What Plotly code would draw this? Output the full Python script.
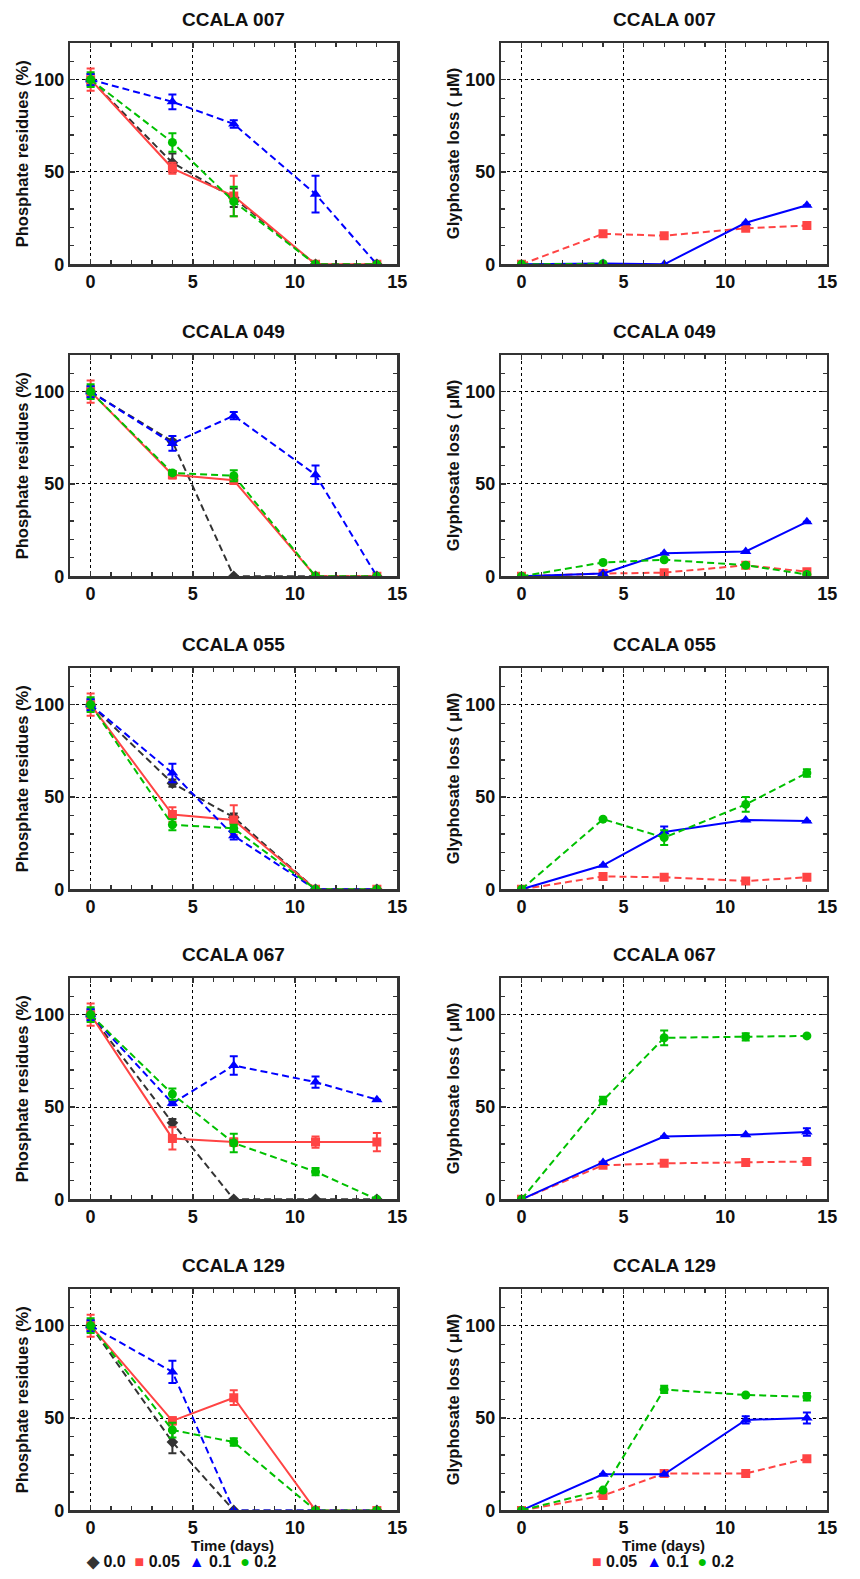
import plotly.graph_objects as go

# ---------------- data ----------------
days = [0, 4, 7, 11, 14]
strains = ["CCALA 007", "CCALA 049", "CCALA 055", "CCALA 067", "CCALA 129"]
conc_left = ["0.0", "0.05", "0.1", "0.2"]
conc_right = ["0.05", "0.1", "0.2"]
x_ticks = [0, 5, 10, 15]
y_ticks = [0, 50, 100]

# Phosphate residues (%) per strain: series order 0.0, 0.05, 0.1, 0.2
phos_007 = [[100, 55, 36, 0, 0], [100, 52, 37, 0, 0], [100, 88, 76, 38, 0], [100, 66, 34, 0, 0]]
phos_049 = [[100, 73, 0, 0, 0], [100, 55, 52, 0, 0], [100, 72, 87, 55, 0], [100, 56, 54.5, 0, 0]]
phos_055 = [[100, 57.5, 39, 0, 0], [100, 40.5, 37.5, 0, 0], [100, 63, 29, 0, 0], [100, 35, 33, 0, 0]]
phos_067 = [[100, 41.5, 0, 0, 0], [100, 33, 31, 31, 31], [100, 52, 72.5, 63.5, 54], [100, 57, 30.5, 15, 0]]
phos_129 = [[100, 37, 0, 0, 0], [100, 48.5, 61, 0, 0], [100, 75, 0, 0, 0], [100, 43.5, 37, 0, 0]]

phos_err_007 = [[3, 5, 5, 0, 0], [6, 3, 11, 0, 0], [3, 4, 2, 10, 0], [4, 5, 8, 0, 0]]
phos_err_049 = [[3, 1, 0, 0, 0], [6, 2, 2, 0, 0], [3, 4, 2, 5, 0], [4, 1, 3, 0, 0]]
phos_err_055 = [[3, 2, 2, 0, 0], [6, 4, 8, 0, 0], [3, 5, 2, 0, 0], [4, 3, 2, 0, 0]]
phos_err_067 = [[3, 2, 0, 0, 0], [6, 6, 2, 3, 5], [3, 1, 5, 3, 0], [4, 3, 5, 2, 0]]
phos_err_129 = [[3, 6, 0, 0, 0], [6, 2, 4, 0, 0], [3, 6, 0, 0, 0], [4, 4, 2, 0, 0]]

# Glyphosate loss (uM) per strain: series order 0.05, 0.1, 0.2
gly_007 = [[0, 16.5, 15.5, 19.5, 21], [0, 0.5, 0, 22.5, 32], [0, 0.3, None, None, None]]
gly_049 = [[0, 1.5, 2, 6, 2.5], [0, 1.5, 12.5, 13.5, 29.5], [0, 7.5, 9, 6, 1]]
gly_055 = [[0, 7, 6.5, 4.5, 6.5], [0, 13, 31, 37.5, 37], [0, 38, 28, 46, 63]]
gly_067 = [[0, 18.5, 19.5, 20, 20.5], [0, 20, 34, 35, 36.5], [0, 53.5, 87.5, 88, 88.5]]
gly_129 = [[0, 8, 20, 20, 28], [0, 19.5, 19.5, 49, 50], [0, 11, 65.5, 62.5, 61.5]]

gly_err_007 = [[0, 0, 0, 0, 0], [0, 0, 0, 0, 0], [0, 0, 0, 0, 0]]
gly_err_049 = [[0, 0, 0, 0, 0], [0, 0, 0, 0, 0], [0, 0, 0, 0, 0]]
gly_err_055 = [[0, 0, 0, 0, 0], [0, 0, 3, 0, 0], [0, 0, 4, 4, 2]]
gly_err_067 = [[0, 0, 0, 0, 0], [0, 0, 0, 0, 2], [0, 2, 4, 2, 0]]
gly_err_129 = [[0, 0, 0, 0, 0], [0, 0, 0, 2, 3], [0, 0, 2, 0, 2]]

phos_all = [phos_007, phos_049, phos_055, phos_067, phos_129]
phos_err_all = [phos_err_007, phos_err_049, phos_err_055, phos_err_067, phos_err_129]
gly_all = [gly_007, gly_049, gly_055, gly_067, gly_129]
gly_err_all = [gly_err_007, gly_err_049, gly_err_055, gly_err_067, gly_err_129]

# ---------------- styles ----------------
W, H = 860, 1579
FONT = "Liberation Sans, Arial, sans-serif"
TXT = "#111111"
col = {"0.0": "#333333", "0.05": "#ff4444", "0.1": "#0000ff", "0.2": "#00c000"}
sym = {"0.0": "diamond", "0.05": "square", "0.1": "triangle-up", "0.2": "circle"}
msize = {"0.0": 9, "0.05": 9, "0.1": 10, "0.2": 9}
DASH = "7px,4px"
dash_left = {"0.0": DASH, "0.05": "solid", "0.1": DASH, "0.2": DASH}
dash_right = {"0.05": DASH, "0.1": "solid", "0.2": DASH}

row_tops = [43, 357, 672, 984, 1297]
ph = 223
col_x = [(71, 402), (507, 837)]

fig = go.Figure()
layout = {}
annotations = []


def px_x(p):
    return p / W


def px_y(p):
    return 1 - p / H


def axis_style():
    return dict(
        showline=True, linecolor="#333333", linewidth=2.2, mirror="allticks",
        ticks="inside", ticklen=5, tickwidth=1.5, tickcolor="#333333",
        showgrid=True, gridcolor="#000000", gridwidth=1, griddash="dot",
        zeroline=False,
        tickfont=dict(family=FONT, size=18, color=TXT),
    )


for r in range(5):
    for c in range(2):
        k = r * 2 + c + 1
        xa = "x" if k == 1 else f"x{k}"
        ya = "y" if k == 1 else f"y{k}"
        x0, x1 = col_x[c]
        top = row_tops[r]
        bot = top + ph
        xd = axis_style()
        xd.update(domain=[px_x(x0), px_x(x1)], anchor=ya, range=[-1, 15],
                  tickmode="array", tickvals=x_ticks,
                  ticktext=[f"<b>{v}</b>" for v in x_ticks],
                  minor=dict(ticks="inside", ticklen=4, tickwidth=1.2, tickcolor="#333333",
                             showgrid=False, dtick=1, tick0=0))
        yd = axis_style()
        yd.update(domain=[px_y(bot), px_y(top)], anchor=xa, range=[0, 120],
                  tickmode="array", tickvals=y_ticks,
                  ticktext=[f"<b>{v}</b>" for v in y_ticks],
                  minor=dict(ticks="inside", ticklen=4, tickwidth=1.2, tickcolor="#333333",
                             showgrid=False, dtick=10, tick0=0))
        layout["xaxis" if k == 1 else f"xaxis{k}"] = xd
        layout["yaxis" if k == 1 else f"yaxis{k}"] = yd
        # panel title
        annotations.append(dict(
            text=f"<b>{strains[r]}</b>", x=px_x((x0 + x1) / 2), y=px_y(top - 23),
            xref="paper", yref="paper", showarrow=False, xanchor="center", yanchor="middle",
            font=dict(family=FONT, size=19, color=TXT),
        ))
        # y axis title
        ytitle = "Phosphate residues (%)" if c == 0 else "Glyphosate loss ( μM)"
        annotations.append(dict(
            text=f"<b>{ytitle}</b>", x=px_x(22 if c == 0 else 458), y=px_y((top + bot) / 2),
            xref="paper", yref="paper", showarrow=False, textangle=-90,
            xanchor="center", yanchor="middle",
            font=dict(family=FONT, size=16.5, color=TXT),
        ))
        if r == 4:
            annotations.append(dict(
                text="<b>Time (days)</b>", x=px_x((x0 + x1) / 2 - 1), y=px_y(bot + 35),
                xref="paper", yref="paper", showarrow=False, xanchor="center", yanchor="middle",
                font=dict(family=FONT, size=15, color=TXT),
            ))

        if c == 0:
            series, dsets, errs, dashes = conc_left, phos_all[r], phos_err_all[r], dash_left
        else:
            series, dsets, errs, dashes = conc_right, gly_all[r], gly_err_all[r], dash_right
        for s, yv, ev in zip(series, dsets, errs):
            fig.add_trace(go.Scatter(
                x=days, y=yv, xaxis=xa, yaxis=ya, mode="lines+markers",
                name=s, showlegend=False, connectgaps=False,
                line=dict(color=col[s], width=2, dash=dashes[s]),
                marker=dict(symbol=sym[s], size=msize[s], color=col[s]),
                error_y=dict(type="data", array=ev, visible=True, color=col[s], thickness=2, width=4),
            ))


# legends as text with symbols
def legend_text(items):
    parts = []
    glyph = {"0.0": "◆", "0.05": "■", "0.1": "▲", "0.2": "●"}
    for s in items:
        parts.append(f"<span style='color:{col[s]}'>{glyph[s]}</span> {s}")
    return "<b>" + "  ".join(parts) + "</b>"


annotations.append(dict(
    text=legend_text(conc_left), x=px_x(184), y=px_y(1571), xref="paper", yref="paper",
    showarrow=False, xanchor="center", yanchor="middle",
    font=dict(family=FONT, size=16, color=TXT),
))
annotations.append(dict(
    text=legend_text(conc_right), x=px_x(671), y=px_y(1571), xref="paper", yref="paper",
    showarrow=False, xanchor="center", yanchor="middle",
    font=dict(family=FONT, size=16, color=TXT),
))

fig.update_layout(
    width=W, height=H, margin=dict(l=0, r=0, t=0, b=0),
    paper_bgcolor="white", plot_bgcolor="white",
    annotations=annotations, showlegend=False, hovermode=False,
    **layout,
)

# remove the page's default body margin so the figure fills the window exactly
page_fix = (
    "document.body.style.margin='0';"
    "document.body.style.padding='0';"
    "document.body.style.overflow='hidden';"
    "document.documentElement.style.overflow='hidden';"
)
fig.write_html("out.html", post_script=page_fix,
               config={"displayModeBar": False, "staticPlot": True})
